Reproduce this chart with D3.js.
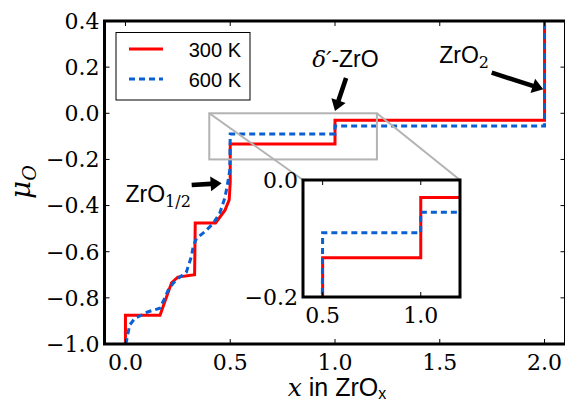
<!DOCTYPE html>
<html>
<head>
<meta charset="utf-8">
<script src="https://cdn.jsdelivr.net/npm/d3@7"></script>
<style>
  html, body { margin: 0; padding: 0; background: #fff; }
  svg { display: block; }
</style>
</head>
<body>
<svg id="chart" width="565" height="404"></svg>
<script>
// Oxygen chemical potential vs. composition x in ZrO_x
const x300 = [0, 0, 0.165, 0.22, 0.25, 0.33, 0.333, 0.43, 0.475, 0.495, 0.5, 0.5, 1.0, 1.0, 2.0, 2.0];
const mu300 = [-1.0, -0.875, -0.875, -0.735, -0.71, -0.70, -0.475, -0.475, -0.42, -0.375, -0.30, -0.133, -0.133, -0.03, -0.03, 0.4];

const x600 = [0.002, 0.02, 0.045, 0.109, 0.164, 0.188, 0.204, 0.228, 0.252, 0.29, 0.315, 0.323, 0.339, 0.379, 0.419, 0.45, 0.474, 0.485, 0.498, 0.5, 1.0, 1.0, 2.0, 2.0];
const mu600 = [-1.0, -0.918, -0.889, -0.86, -0.845, -0.80, -0.766, -0.736, -0.715, -0.69, -0.62, -0.578, -0.542, -0.513, -0.477, -0.433, -0.368, -0.318, -0.246, -0.09, -0.09, -0.055, -0.055, 0.4];

const seriesNames = ["300 K", "600 K"];
const xTicks = [0.0, 0.5, 1.0, 1.5, 2.0];
const yTicks = [0.4, 0.2, 0.0, -0.2, -0.4, -0.6, -0.8, -1.0];
const insetXTicks = [0.5, 1.0];
const insetYTicks = [0.0, -0.2];

const RED = "#ff0000";
const BLUE = "#0a5fd2";
const SERIF = "'DejaVu Serif', 'Liberation Serif', serif";
const SANS = "'Liberation Sans', Arial, sans-serif";

const svg = d3.select("#chart");
const fmt = v => (v < 0 ? "\u2212" : "") + Math.abs(v).toFixed(1);

const series = [
  { name: seriesNames[0], pts: x300.map((x, i) => [x, mu300[i]]), color: RED, dash: null },
  { name: seriesNames[1], pts: x600.map((x, i) => [x, mu600[i]]), color: BLUE, dash: "6,4" }
];

// Main axes
const x = d3.scaleLinear().domain([-0.1, 2.1]).range([104.5, 565.5]);
const y = d3.scaleLinear().domain([-1.0, 0.4]).range([344, 21]);

svg.append("clipPath").attr("id", "mainClip")
  .append("rect").attr("x", x.range()[0]).attr("y", y.range()[1])
  .attr("width", x.range()[1] - x.range()[0]).attr("height", y.range()[0] - y.range()[1]);

function drawSeries(g, xs, ys, clipId) {
  const line = d3.line().x(d => xs(d[0])).y(d => ys(d[1]));
  const lg = g.append("g").attr("clip-path", `url(#${clipId})`);
  series.forEach(s => {
    lg.append("path").attr("d", line(s.pts))
      .attr("fill", "none").attr("stroke", s.color).attr("stroke-width", 3)
      .attr("stroke-dasharray", s.dash).attr("stroke-linejoin", "miter");
  });
}

function drawAxes(g, xs, ys, xt, yt, tickLen) {
  const [x0, x1] = xs.range();
  const [y0, y1] = ys.range();
  const tg = g.append("g").attr("stroke", "#000").attr("stroke-width", 1);
  xt.forEach(v => {
    tg.append("line").attr("x1", xs(v)).attr("x2", xs(v)).attr("y1", y0).attr("y2", y0 - tickLen);
    tg.append("line").attr("x1", xs(v)).attr("x2", xs(v)).attr("y1", y1).attr("y2", y1 + tickLen);
  });
  yt.forEach(v => {
    tg.append("line").attr("y1", ys(v)).attr("y2", ys(v)).attr("x1", x0).attr("x2", x0 + tickLen);
    tg.append("line").attr("y1", ys(v)).attr("y2", ys(v)).attr("x1", x1).attr("x2", x1 - tickLen);
  });
  g.append("rect").attr("x", x0).attr("y", y1).attr("width", x1 - x0).attr("height", y0 - y1)
    .attr("fill", "none").attr("stroke", "#000").attr("stroke-width", 3);
  g.selectAll(null).data(xt).join("text").attr("font-family", SERIF)
    .attr("x", d => xs(d)).attr("y", y0 + 26).attr("text-anchor", "middle")
    .attr("font-size", 22).text(fmt);
  g.selectAll(null).data(yt).join("text").attr("font-family", SERIF)
    .attr("x", x0 - 5).attr("y", d => ys(d)).attr("dy", "0.36em").attr("text-anchor", "end")
    .attr("font-size", 22).text(fmt);
}

const main = svg.append("g");
drawSeries(main, x, y, "mainClip");

// Zoom box on the main axes and its connectors to the inset
const insetX = d3.scaleLinear().domain([0.4, 1.2]).range([303, 460]);
const insetY = d3.scaleLinear().domain([-0.2, 0.0]).range([297, 180]);

const zg = main.append("g").attr("stroke", "#b3b3b3").attr("stroke-width", 2).attr("fill", "none");
zg.append("rect").attr("x", x(0.4)).attr("y", y(0.0)).attr("width", x(1.2) - x(0.4)).attr("height", y(-0.2) - y(0.0));
zg.append("line").attr("x1", x(0.4)).attr("y1", y(0.0)).attr("x2", insetX(0.4)).attr("y2", insetY(0.0));
zg.append("line").attr("x1", x(1.2)).attr("y1", y(0.0)).attr("x2", insetX(1.2)).attr("y2", insetY(0.0));

drawAxes(main, x, y, xTicks, yTicks, 5);

// Axis titles
const xl = svg.append("text").attr("x", 337).attr("y", 396).attr("text-anchor", "middle").attr("font-size", 25);
xl.append("tspan").attr("font-family", SERIF).attr("font-style", "italic").text("x");
xl.append("tspan").attr("font-family", SANS).text(" in ZrO");
xl.append("tspan").attr("font-family", SANS).attr("font-size", 16).attr("dy", 3).text("x");

const yl = svg.append("text").attr("transform", "translate(30,182) rotate(-90)")
  .attr("text-anchor", "middle").attr("font-family", SERIF).attr("font-style", "italic").attr("font-size", 28);
yl.append("tspan").text("\u03bc");
yl.append("tspan").attr("font-size", 19).attr("dy", 6).text("O");

// Legend
const lg = svg.append("g");
lg.append("rect").attr("x", 116).attr("y", 32.5).attr("width", 134).attr("height", 67.5)
  .attr("fill", "#fff").attr("stroke", "#000").attr("stroke-width", 1);
series.forEach((s, i) => {
  const cy = 49 + i * 30;
  lg.append("line").attr("x1", 129).attr("x2", 163).attr("y1", cy).attr("y2", cy)
    .attr("stroke", s.color).attr("stroke-width", 3).attr("stroke-dasharray", s.dash);
  lg.append("text").attr("font-family", SANS).attr("x", 241).attr("y", cy + 7.5)
    .attr("text-anchor", "end").attr("font-size", 20).text(s.name);
});

// Annotations (data coordinates of text anchor, arrow tail and arrow tip)
const notes = [
  { parts: [[SERIF, "italic", "\u03b4\u2032", 0], [SANS, "normal", "-ZrO", 0]], tx: 1.05, ty: 0.2, anchor: "middle", tail: [1.053, 0.153], tip: [1.0, 0.01] },
  { parts: [[SANS, "normal", "ZrO", 0], [SERIF, "normal", "2", 5]], tx: 1.616, ty: 0.218, anchor: "middle", tail: [1.748, 0.176], tip: [1.994, 0.104] },
  { parts: [[SANS, "normal", "ZrO", 0], [SERIF, "normal", "1/2", 5]], tx: 0.0, ty: -0.383, anchor: "start", tail: [0.316, -0.311], tip: [0.459, -0.303] }
];

notes.forEach(n => {
  const t = svg.append("text").attr("x", x(n.tx)).attr("y", y(n.ty)).attr("text-anchor", n.anchor).attr("font-size", 23);
  let prevDy = 0;
  n.parts.forEach(p => {
    const sp = t.append("tspan").attr("font-family", p[0]).attr("font-style", p[1]).text(p[2]);
    if (p[3]) sp.attr("font-size", 16);
    sp.attr("dy", p[3] - prevDy);
    prevDy = p[3];
  });
  const x0 = x(n.tail[0]), y0 = y(n.tail[1]), x1 = x(n.tip[0]), y1 = y(n.tip[1]);
  const dx = x1 - x0, dy = y1 - y0, L = Math.hypot(dx, dy);
  const ux = dx / L, uy = dy / L, px = -uy, py = ux;
  const hl = 11, hw = 7.5, sw = 2.3;
  const bx = x1 - ux * hl, by = y1 - uy * hl;
  const poly = [
    [x0 + px * sw, y0 + py * sw], [bx + px * sw, by + py * sw], [bx + px * hw, by + py * hw],
    [x1, y1],
    [bx - px * hw, by - py * hw], [bx - px * sw, by - py * sw], [x0 - px * sw, y0 - py * sw]
  ];
  svg.append("polygon").attr("points", poly.map(p => p.join(",")).join(" ")).attr("fill", "#000");
});

// Inset
const inset = svg.append("g");
inset.append("rect").attr("x", 303).attr("y", 180).attr("width", 157).attr("height", 117).attr("fill", "#fff");
svg.append("clipPath").attr("id", "insetClip")
  .append("rect").attr("x", 303).attr("y", 180).attr("width", 157).attr("height", 117);
drawSeries(inset, insetX, insetY, "insetClip");
drawAxes(inset, insetX, insetY, insetXTicks, insetYTicks, 5);
</script>
</body>
</html>
